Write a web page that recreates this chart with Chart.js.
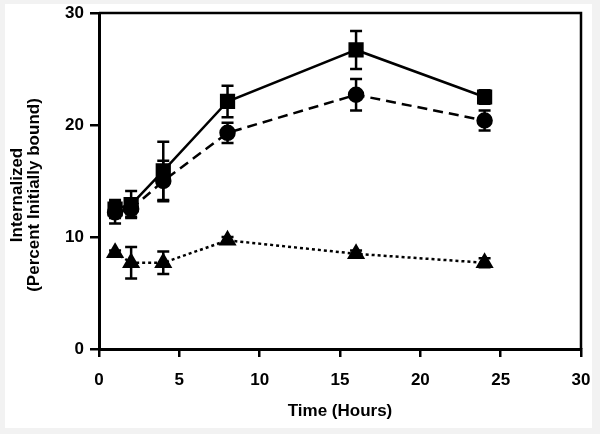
<!DOCTYPE html>
<html lang="en">
<head>
    <meta charset="UTF-8">
    <title>Internalized vs Time</title>
    <script src="https://cdn.jsdelivr.net/npm/chart.js"></script>
    <style>
        body {
            margin: 0;
            background: #f2f2f2;
        }
        .panel {
            position: absolute;
            left: 5px;
            top: 4px;
            width: 587px;
            height: 424px;
            background: #fff;
        }
        .wrap {
            position: absolute;
            left: 0;
            top: 0;
            width: 600px;
            height: 434px;
        }
    </style>
</head>
<body>
<div class="panel"></div>
<div class="wrap"><canvas id="grafico" width="600" height="434"></canvas></div>

<script>
// Data
const hours = [1, 2, 4, 8, 16, 24];
const squareMean = [12.5, 12.9, 15.9, 22.1, 26.7, 22.5];
const squareErr = [0.8, 1.2, 2.6, 1.4, 1.7, 0.6];
const circleMean = [12.2, 12.5, 15.0, 19.3, 22.7, 20.4];
const circleErr = [1.0, 0.7, 1.8, 0.9, 1.4, 0.9];
const triangleMean = [8.6, 7.7, 7.7, 9.7, 8.5, 7.7];
const triangleErr = [0.2, 1.4, 1.0, 0.3, 0.3, 0.4];
const xTicks = [0, 5, 10, 15, 20, 25, 30];
const yTicks = [0, 10, 20, 30];

const FONT = "'Liberation Sans', Arial, sans-serif";

function punti(means) {
    return hours.map((h, i) => ({x: h, y: means[i]}));
}

// error bars, drawn with the chart scales
const errorBars = {
    id: 'errorBars',
    afterDatasetsDraw(chart) {
        const ctx = chart.ctx;
        const xs = chart.scales.x, ys = chart.scales.y;
        const errs = [squareErr, circleErr, triangleErr];
        const means = [squareMean, circleMean, triangleMean];
        ctx.save();
        ctx.strokeStyle = '#000';
        ctx.lineWidth = 2.5;
        for (let d = 0; d < 3; d++) {
            hours.forEach((h, i) => {
                const px = xs.getPixelForValue(h);
                const top = ys.getPixelForValue(means[d][i] + errs[d][i]);
                const bot = ys.getPixelForValue(means[d][i] - errs[d][i]);
                ctx.beginPath();
                ctx.moveTo(px, top); ctx.lineTo(px, bot);
                ctx.moveTo(px - 6, top); ctx.lineTo(px + 6, top);
                ctx.moveTo(px - 6, bot); ctx.lineTo(px + 6, bot);
                ctx.stroke();
            });
        }
        ctx.restore();
    },
    afterDraw(chart) {
        const ctx = chart.ctx;
        const a = chart.chartArea;
        ctx.save();
        // frame round the plot
        ctx.strokeStyle = '#000';
        ctx.lineWidth = 2.5;
        ctx.beginPath();
        ctx.moveTo(a.left, a.top); ctx.lineTo(a.right, a.top); ctx.lineTo(a.right, a.bottom);
        ctx.stroke();
        // y axis title
        ctx.fillStyle = '#000';
        ctx.font = 'bold 17px ' + FONT;
        ctx.textAlign = 'center';
        ctx.textBaseline = 'middle';
        ctx.translate(25, 195);
        ctx.rotate(-Math.PI / 2);
        ctx.fillText('Internalized', 0, -8);
        ctx.fillText('(Percent Initially bound)', 0, 9);
        ctx.restore();
    }
};

const ctx = document.getElementById('grafico').getContext('2d');
const chart = new Chart(ctx, {
    type: 'line',
    data: {
        datasets: [{
            data: punti(squareMean),
            borderColor: '#000',
            backgroundColor: '#000',
            borderWidth: 2.5,
            pointStyle: 'rect',
            pointRadius: 9,
        }, {
            data: punti(circleMean),
            borderColor: '#000',
            backgroundColor: '#000',
            borderWidth: 2.5,
            borderDash: [10, 6],
            pointStyle: 'circle',
            pointRadius: 7,
        }, {
            data: punti(triangleMean),
            borderColor: '#000',
            backgroundColor: '#000',
            borderWidth: 2.5,
            borderDash: [3, 3],
            pointStyle: 'triangle',
            pointRadius: 8,
        }]
    },
    options: {
        responsive: false,
        animation: false,
        layout: {padding: {top: 13, right: 19, left: 0, bottom: 0}},
        plugins: {legend: {display: false}, tooltip: {enabled: false}},
        scales: {
            x: {
                type: 'linear',
                min: 0, max: 30,
                afterBuildTicks: s => { s.ticks = xTicks.map(v => ({value: v})); },
                afterFit: s => { s.height = 85; s.paddingLeft = 0; s.paddingRight = 0; },
                grid: {drawOnChartArea: false, drawTicks: true, tickLength: 8, lineWidth: 2.5, color: '#000'},
                border: {display: true, width: 3, color: '#000'},
                ticks: {color: '#000', padding: 13, font: {family: FONT, size: 17, weight: 'bold'}},
                title: {display: true, text: 'Time (Hours)', color: '#000', padding: {bottom: 12},
                        font: {family: FONT, size: 17, weight: 'bold'}}
            },
            y: {
                min: 0, max: 30,
                afterBuildTicks: s => { s.ticks = yTicks.map(v => ({value: v})); },
                afterFit: s => { s.width = 99; s.paddingTop = 0; s.paddingBottom = 0; },
                grid: {drawOnChartArea: false, drawTicks: true, tickLength: 9, lineWidth: 2.5, color: '#000'},
                border: {display: true, width: 3, color: '#000'},
                ticks: {color: '#000', padding: 6, font: {family: FONT, size: 17, weight: 'bold'}}
            }
        }
    },
    plugins: [errorBars]
});
</script>
</body>
</html>
